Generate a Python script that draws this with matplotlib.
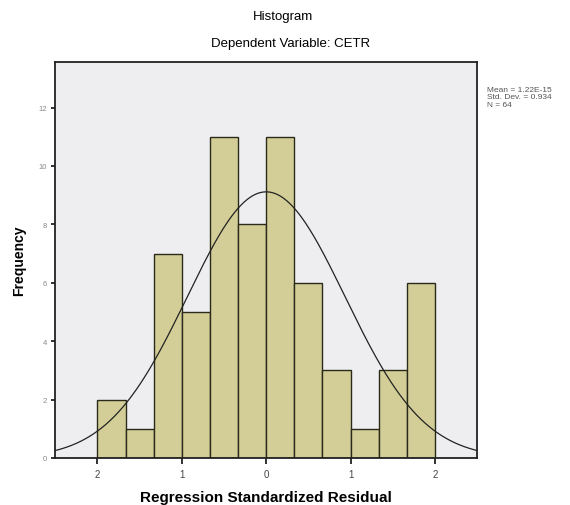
import numpy as np
import matplotlib
matplotlib.use("Agg")
import matplotlib.pyplot as plt

plt.rcParams['font.family'] = ['Liberation Sans', 'DejaVu Sans']

# Data
bin_edges = np.linspace(-2.0, 2.0, 13)
counts = [2, 1, 7, 5, 11, 8, 11, 6, 3, 1, 3, 6]
mean_val = 0.0
std_val = 0.934
n_obs = 64
x_ticks = [-2, -1, 0, 1, 2]
x_tick_labels = ["2", "1", "0", "1", "2"]
y_ticks = [0, 2, 4, 6, 8, 10, 12]
stats_text = ["Mean = 1.22E-15", "Std. Dev. = 0.934", "N = 64"]

fig = plt.figure(figsize=(5.70, 5.06), dpi=100)
ax = fig.add_axes([0.097, 0.093, 0.740, 0.782])
ax.set_facecolor('#EEEEF0')

widths = np.diff(bin_edges)
ax.bar(bin_edges[:-1], counts, width=widths, align='edge',
       color='#D3CE97', edgecolor='#2a2a1a', linewidth=1.0, zorder=2)

xs = np.linspace(-2.5, 2.5, 400)
bw = widths[0]
ys = n_obs * bw / (std_val * np.sqrt(2 * np.pi)) * np.exp(-0.5 * ((xs - mean_val) / std_val) ** 2)
ax.plot(xs, ys, color='#222222', linewidth=0.9, zorder=3)

ax.set_xlim(-2.5, 2.5)
ax.set_ylim(0, 13.55)
ax.set_xticks(x_ticks)
ax.set_xticklabels(x_tick_labels, fontsize=7, color='#444444')
ax.set_yticks(y_ticks)
ax.set_yticklabels([str(v) for v in y_ticks], fontsize=5.5, color='#888888')
ax.tick_params(axis='x', direction='out', length=4, width=1.3, color='#222222', pad=4)
ax.tick_params(axis='y', direction='out', length=3, width=1.3, color='#222222', pad=3)
for s in ax.spines.values():
    s.set_linewidth(1.3)
    s.set_color('#222222')

ax.set_xlabel('Regression Standardized Residual', fontsize=11, fontweight='bold', labelpad=8)
ax.set_ylabel('Frequency', fontsize=10, fontweight='bold', labelpad=9)

fig.text(0.497, 0.966, 'Histogram', ha='center', va='center', fontsize=9.5)
fig.text(0.510, 0.913, 'Dependent Variable: CETR', ha='center', va='center', fontsize=9.5)

fig.text(0.855, 0.828, "\n".join(stats_text), ha='left', va='top', fontsize=6,
         color='#555555', linespacing=1.05)

fig.savefig('out.png', dpi=100)
